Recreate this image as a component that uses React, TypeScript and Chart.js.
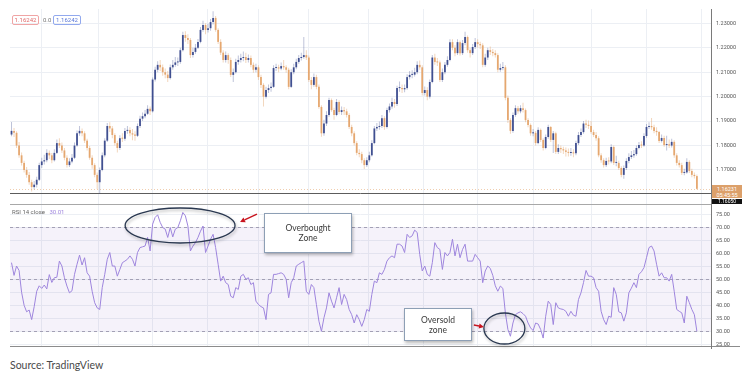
import React, { useEffect, useRef } from 'react';
import { Chart, registerables } from 'chart.js';

Chart.register(...registerables);

// ---------------- data (EUR/USD daily) ----------------
const firstOpen = 1.1845;

const closes = [
  1.1860, 1.1852, 1.1800, 1.1760, 1.1729, 1.1700, 1.1680, 1.1650, 1.1630, 1.1640,
  1.1660, 1.1720, 1.1735, 1.1740, 1.1770, 1.1760, 1.1740, 1.1770, 1.1810, 1.1800,
  1.1780, 1.1750, 1.1720, 1.1735, 1.1750, 1.1800, 1.1850, 1.1860, 1.1850, 1.1820,
  1.1790, 1.1750, 1.1720, 1.1680, 1.1650, 1.1700, 1.1760, 1.1820, 1.1880, 1.1870,
  1.1843, 1.1810, 1.1790, 1.1830, 1.1828, 1.1860, 1.1864, 1.1850, 1.1845, 1.1840,
  1.1880, 1.1910, 1.1920, 1.1930, 1.1950, 1.1940, 1.2070, 1.2110, 1.2130, 1.2120,
  1.2100, 1.2090, 1.2076, 1.2120, 1.2130, 1.2140, 1.2142, 1.2190, 1.2252, 1.2240,
  1.2232, 1.2170, 1.2183, 1.2200, 1.2224, 1.2273, 1.2293, 1.2273, 1.2280, 1.2305,
  1.2322, 1.2273, 1.2224, 1.2180, 1.2150, 1.2170, 1.2150, 1.2089, 1.2100, 1.2142,
  1.2150, 1.2158, 1.2162, 1.2150, 1.2158, 1.2130, 1.2110, 1.2120, 1.2080, 1.2048,
  1.2000, 1.2027, 1.2035, 1.2040, 1.2117, 1.2120, 1.2115, 1.2125, 1.2120, 1.2110,
  1.2040, 1.2100, 1.2120, 1.2142, 1.2158, 1.2162, 1.2170, 1.2160, 1.2068, 1.2048,
  1.2080, 1.2040, 1.1958, 1.1850, 1.1890, 1.1925, 1.1986, 1.1945, 1.1925, 1.1978,
  1.1937, 1.1945, 1.1940, 1.1925, 1.1876, 1.1850, 1.1810, 1.1770, 1.1765, 1.1740,
  1.1720, 1.1740, 1.1760, 1.1810, 1.1870, 1.1876, 1.1880, 1.1912, 1.1876, 1.1945,
  1.1960, 1.1978, 1.1970, 1.2035, 1.2035, 1.2030, 1.2035, 1.2080, 1.2089, 1.2090,
  1.2100, 1.2130, 1.2120, 1.2015, 1.2027, 1.2000, 1.2060, 1.2160, 1.2142, 1.2140,
  1.2068, 1.2100, 1.2130, 1.2150, 1.2223, 1.2200, 1.2178, 1.2223, 1.2178, 1.2219,
  1.2244, 1.2190, 1.2178, 1.2203, 1.2223, 1.2215, 1.2210, 1.2130, 1.2160, 1.2190,
  1.2183, 1.2178, 1.2170, 1.2110, 1.2117, 1.2120, 1.1995, 1.1904, 1.1860, 1.1925,
  1.1953, 1.1940, 1.1953, 1.1945, 1.1904, 1.1884, 1.1850, 1.1852, 1.1810, 1.1864,
  1.1823, 1.1790, 1.1835, 1.1876, 1.1823, 1.1850, 1.1774, 1.1790, 1.1785, 1.1780,
  1.1774, 1.1770, 1.1772, 1.1768, 1.1810, 1.1843, 1.1855, 1.1890, 1.1885, 1.1880,
  1.1855, 1.1843, 1.1830, 1.1760, 1.1740, 1.1720, 1.1737, 1.1735, 1.1794, 1.1729,
  1.1729, 1.1708, 1.1680, 1.1708, 1.1737, 1.1753, 1.1760, 1.1765, 1.1790, 1.1802,
  1.1800, 1.1839, 1.1876, 1.1880, 1.1875, 1.1860, 1.1855, 1.1819, 1.1831, 1.1802,
  1.1805, 1.1800, 1.1815, 1.1760, 1.1729, 1.1720, 1.1688, 1.1690, 1.1733, 1.1696,
  1.1680, 1.1675, 1.1623,
];

const highs = [
  1.1896, 1.1872, 1.1858, 1.1815, 1.1772, 1.1738, 1.1712, 1.1692, 1.1660, 1.1655,
  1.1672, 1.1730, 1.1750, 1.1762, 1.1785, 1.1780, 1.1770, 1.1785, 1.1825, 1.1830,
  1.1812, 1.1790, 1.1760, 1.1748, 1.1765, 1.1812, 1.1862, 1.1880, 1.1870, 1.1858,
  1.1828, 1.1798, 1.1760, 1.1728, 1.1690, 1.1710, 1.1772, 1.1830, 1.1892, 1.1895,
  1.1880, 1.1850, 1.1820, 1.1842, 1.1850, 1.1872, 1.1880, 1.1875, 1.1868, 1.1858,
  1.1890, 1.1922, 1.1935, 1.1945, 1.1965, 1.1960, 1.2078, 1.2122, 1.2145, 1.2150,
  1.2132, 1.2115, 1.2105, 1.2132, 1.2150, 1.2162, 1.2160, 1.2200, 1.2265, 1.2268,
  1.2255, 1.2240, 1.2200, 1.2215, 1.2236, 1.2285, 1.2310, 1.2300, 1.2298, 1.2318,
  1.2349, 1.2330, 1.2280, 1.2235, 1.2190, 1.2185, 1.2178, 1.2160, 1.2115, 1.2155,
  1.2168, 1.2175, 1.2185, 1.2180, 1.2172, 1.2168, 1.2140, 1.2135, 1.2128, 1.2090,
  1.2055, 1.2040, 1.2050, 1.2058, 1.2128, 1.2135, 1.2130, 1.2140, 1.2150, 1.2128,
  1.2118, 1.2112, 1.2135, 1.2155, 1.2170, 1.2180, 1.2244, 1.2190, 1.2168, 1.2080,
  1.2095, 1.2090, 1.2050, 1.1965, 1.1905, 1.1940, 1.1995, 1.1992, 1.1955, 1.1990,
  1.1985, 1.1960, 1.1958, 1.1950, 1.1932, 1.1885, 1.1858, 1.1818, 1.1785, 1.1775,
  1.1748, 1.1752, 1.1775, 1.1822, 1.1880, 1.1892, 1.1898, 1.1925, 1.1920, 1.1955,
  1.1972, 1.1995, 1.1990, 1.2045, 1.2062, 1.2050, 1.2050, 1.2092, 1.2105, 1.2108,
  1.2118, 1.2145, 1.2148, 1.2128, 1.2042, 1.2038, 1.2070, 1.2170, 1.2175, 1.2158,
  1.2148, 1.2115, 1.2142, 1.2165, 1.2235, 1.2235, 1.2210, 1.2235, 1.2230, 1.2232,
  1.2265, 1.2250, 1.2200, 1.2215, 1.2240, 1.2235, 1.2225, 1.2218, 1.2175, 1.2200,
  1.2205, 1.2195, 1.2190, 1.2178, 1.2135, 1.2142, 1.2128, 1.2005, 1.1912, 1.1935,
  1.1965, 1.1962, 1.1965, 1.1975, 1.1952, 1.1912, 1.1890, 1.1868, 1.1860, 1.1875,
  1.1870, 1.1830, 1.1845, 1.1885, 1.1880, 1.1860, 1.1856, 1.1805, 1.1800, 1.1795,
  1.1792, 1.1788, 1.1790, 1.1785, 1.1820, 1.1855, 1.1870, 1.1900, 1.1905, 1.1902,
  1.1900, 1.1865, 1.1855, 1.1838, 1.1768, 1.1748, 1.1750, 1.1752, 1.1805, 1.1800,
  1.1758, 1.1738, 1.1715, 1.1718, 1.1748, 1.1768, 1.1778, 1.1782, 1.1800, 1.1815,
  1.1818, 1.1850, 1.1888, 1.1895, 1.1913, 1.1885, 1.1875, 1.1860, 1.1845, 1.1840,
  1.1840, 1.1825, 1.1828, 1.1822, 1.1768, 1.1740, 1.1730, 1.1705, 1.1748, 1.1740,
  1.1705, 1.1690, 1.1682,
];

const lows = [
  1.1838, 1.1835, 1.1790, 1.1750, 1.1718, 1.1690, 1.1668, 1.1640, 1.1612, 1.1620,
  1.1628, 1.1655, 1.1708, 1.1722, 1.1732, 1.1745, 1.1728, 1.1735, 1.1765, 1.1790,
  1.1770, 1.1740, 1.1710, 1.1712, 1.1728, 1.1745, 1.1795, 1.1840, 1.1838, 1.1810,
  1.1780, 1.1742, 1.1705, 1.1670, 1.1622, 1.1603, 1.1695, 1.1752, 1.1815, 1.1855,
  1.1830, 1.1800, 1.1772, 1.1782, 1.1815, 1.1820, 1.1848, 1.1838, 1.1822, 1.1820,
  1.1835, 1.1872, 1.1900, 1.1912, 1.1925, 1.1925, 1.1935, 1.2062, 1.2100, 1.2105,
  1.2085, 1.2075, 1.2060, 1.2070, 1.2110, 1.2122, 1.2125, 1.2135, 1.2185, 1.2225,
  1.2215, 1.2158, 1.2160, 1.2175, 1.2195, 1.2218, 1.2265, 1.2255, 1.2262, 1.2270,
  1.2295, 1.2265, 1.2215, 1.2170, 1.2140, 1.2140, 1.2135, 1.2080, 1.2060, 1.2095,
  1.2130, 1.2140, 1.2145, 1.2138, 1.2140, 1.2120, 1.2098, 1.2100, 1.2068, 1.2035,
  1.1960, 1.1992, 1.2015, 1.2020, 1.2035, 1.2105, 1.2100, 1.2108, 1.2110, 1.2098,
  1.2030, 1.2035, 1.2092, 1.2112, 1.2135, 1.2148, 1.2155, 1.2150, 1.2060, 1.2030,
  1.2040, 1.2030, 1.1950, 1.1836, 1.1840, 1.1880, 1.1918, 1.1938, 1.1905, 1.1920,
  1.1928, 1.1925, 1.1925, 1.1915, 1.1868, 1.1838, 1.1800, 1.1760, 1.1752, 1.1728,
  1.1704, 1.1712, 1.1732, 1.1755, 1.1805, 1.1860, 1.1865, 1.1872, 1.1865, 1.1870,
  1.1935, 1.1950, 1.1955, 1.1962, 1.2020, 1.2015, 1.2018, 1.2028, 1.2070, 1.2075,
  1.2082, 1.2092, 1.2110, 1.2005, 1.2005, 1.1985, 1.1992, 1.2055, 1.2130, 1.2125,
  1.2060, 1.2060, 1.2092, 1.2122, 1.2145, 1.2190, 1.2165, 1.2170, 1.2168, 1.2170,
  1.2210, 1.2180, 1.2160, 1.2170, 1.2195, 1.2200, 1.2195, 1.2120, 1.2122, 1.2150,
  1.2170, 1.2165, 1.2160, 1.2100, 1.2102, 1.2108, 1.1985, 1.1892, 1.1848, 1.1852,
  1.1918, 1.1930, 1.1932, 1.1935, 1.1895, 1.1875, 1.1840, 1.1838, 1.1800, 1.1805,
  1.1815, 1.1780, 1.1785, 1.1828, 1.1815, 1.1770, 1.1765, 1.1765, 1.1770, 1.1765,
  1.1755, 1.1755, 1.1758, 1.1752, 1.1760, 1.1802, 1.1835, 1.1848, 1.1872, 1.1868,
  1.1848, 1.1835, 1.1820, 1.1752, 1.1730, 1.1710, 1.1712, 1.1722, 1.1728, 1.1720,
  1.1715, 1.1700, 1.1670, 1.1664, 1.1700, 1.1728, 1.1745, 1.1750, 1.1758, 1.1785,
  1.1790, 1.1795, 1.1832, 1.1868, 1.1865, 1.1850, 1.1840, 1.1810, 1.1812, 1.1795,
  1.1780, 1.1790, 1.1792, 1.1750, 1.1718, 1.1710, 1.1680, 1.1678, 1.1685, 1.1688,
  1.1670, 1.1665, 1.1620,
];

const rsiValues = [
  56.4, 51.5, 55.1, 53.4, 45.0, 40.0, 37.5, 38.2, 34.5, 39.5,
  45.4, 47.5, 46.5, 47.8, 46.3, 51.8, 48.8, 50.6, 50.8, 57.0,
  55.1, 50.6, 47.4, 44.8, 45.6, 51.9, 55.8, 59.3, 55.5, 58.3,
  52.5, 51.2, 45.4, 41.0, 39.0, 38.4, 46.8, 51.9, 57.7, 60.3,
  55.1, 55.1, 51.2, 53.8, 56.4, 57.0, 57.7, 59.0, 57.7, 55.1,
  60.3, 62.2, 62.5, 62.8, 66.1, 60.9, 71.2, 73.8, 74.8, 71.9,
  69.9, 69.3, 66.1, 69.9, 66.3, 69.3, 69.9, 72.5, 75.7, 74.4,
  70.5, 60.9, 62.8, 64.1, 66.1, 68.5, 70.5, 60.3, 62.8, 65.4,
  67.3, 62.2, 55.8, 49.3, 51.2, 48.7, 48.0, 43.5, 42.9, 46.8,
  46.1, 51.2, 51.9, 50.0, 50.6, 48.0, 48.7, 41.6, 40.3, 39.5,
  39.0, 34.5, 44.2, 44.8, 51.9, 51.9, 52.2, 52.5, 51.9, 50.0,
  42.9, 48.7, 50.6, 55.1, 55.8, 56.4, 57.0, 45.4, 44.2, 48.0,
  46.8, 40.3, 33.9, 30.0, 35.2, 39.0, 44.8, 41.6, 39.0, 42.9,
  46.8, 40.3, 44.2, 42.2, 38.4, 36.4, 33.2, 36.4, 34.5, 31.9,
  34.5, 38.4, 37.7, 44.2, 49.3, 48.7, 52.5, 51.9, 53.8, 57.0,
  58.3, 59.0, 58.3, 63.5, 63.5, 62.8, 60.3, 67.3, 66.1, 66.7,
  68.9, 68.0, 59.6, 53.2, 55.1, 51.9, 51.2, 56.4, 64.1, 62.2,
  61.5, 53.8, 60.3, 59.0, 60.3, 65.4, 59.0, 63.5, 58.3, 61.5,
  63.5, 57.0, 57.0, 57.0, 59.6, 58.3, 57.0, 48.7, 53.2, 55.1,
  54.2, 51.5, 47.5, 45.4, 47.4, 46.5, 37.0, 30.7, 28.1, 33.2,
  36.4, 37.1, 37.5, 36.8, 35.8, 33.2, 31.3, 30.3, 33.2, 32.8,
  30.7, 27.4, 35.8, 41.6, 40.3, 32.6, 41.0, 39.0, 38.6, 38.4,
  37.7, 35.8, 37.7, 36.2, 35.8, 42.2, 44.8, 48.7, 53.4, 51.2,
  51.2, 50.6, 46.8, 45.4, 37.7, 34.5, 32.6, 35.8, 35.4, 46.8,
  44.2, 37.5, 37.1, 33.9, 37.1, 44.8, 46.6, 48.7, 46.8, 51.9,
  52.9, 54.5, 58.3, 62.2, 62.8, 60.9, 55.8, 51.2, 52.5, 50.6,
  50.6, 49.3, 51.9, 45.4, 38.4, 37.7, 37.1, 33.2, 43.5, 41.0,
  38.4, 36.4, 30.01,
];

// month boundaries (candle index) for the vertical grid
const monthStarts = [12, 34.7, 55.8, 77.6, 98.2, 117.9, 141.5, 163.7, 185.1, 207, 230, 252.2, 274];
const priceTicks = [1.17, 1.18, 1.19, 1.2, 1.21, 1.22, 1.23];
const rsiTicks = [25, 30, 35, 40, 45, 50, 55, 60, 65, 70, 75];
const rsiLevels = [70, 50, 30];
const rsiBand = [30, 70];
const lastPrice = 1.16231;
const supportPrice = 1.1605;
const lastRsiLabel = '30.01';
const legendValue = '1.16242';
const countdown = '05:45:55';

// annotations, in data units: [index, rsi, radiusIndex, radiusRsi]
const ellipses = [
  [66.9, 70.69, 21.8, 6.73],
  [195.6, 31.08, 8.13, 5.96],
];
// arrows: [fromIndex, fromRsi, toIndex, toRsi]
const arrows = [
  [97.4, 75.1, 90.7, 72.04],
  [183.5, 32.42, 187.5, 31.65],
];

// ---------------- styling ----------------
const X_MIN = -0.6;
const X_MAX = 277.6;
const P_MIN = 1.15609;
const P_MAX = 1.23585;
const R_MIN = 24.35;
const R_MAX = 78.96;
const UP = 'rgba(52,68,138,0.92)';
const DOWN = 'rgba(228,163,104,0.92)';
const UP_WICK = 'rgba(58,74,140,0.33)';
const DOWN_WICK = 'rgba(227,165,109,0.45)';
const GRID = '#eceff4';
const RSI_COLOR = '#9e85dd';
const AXIS_FONT = { size: 5.5, family: 'Roboto, Arial, sans-serif' };

const xScale = () => ({
  type: 'linear',
  min: X_MIN,
  max: X_MAX,
  offset: false,
  grid: { color: GRID, drawTicks: false, offset: false },
  border: { display: false },
  ticks: { display: false },
  afterBuildTicks: (s: any) => {
    s.ticks = monthStarts.map((v) => ({ value: v }));
  },
  afterFit: (s: any) => {
    s.height = 0;
  },
});

const priceLinesPlugin = {
  id: 'priceLines',
  beforeDatasetsDraw(chart: any) {
    const { ctx, chartArea: a, scales } = chart;
    const y = scales.y;
    ctx.save();
    ctx.lineWidth = 1;
    const yl = Math.round(y.getPixelForValue(lastPrice)) + 0.5;
    ctx.strokeStyle = 'rgba(227,165,109,0.55)';
    ctx.setLineDash([1, 2]);
    ctx.beginPath();
    ctx.moveTo(a.left, yl);
    ctx.lineTo(a.right, yl);
    ctx.stroke();
    ctx.setLineDash([]);
    const ys = Math.round(y.getPixelForValue(supportPrice)) + 0.5;
    ctx.strokeStyle = '#5c5c5c';
    ctx.beginPath();
    ctx.moveTo(a.left, ys);
    ctx.lineTo(a.right, ys);
    ctx.stroke();
    ctx.restore();
  },
};

const rsiBandPlugin = {
  id: 'rsiBand',
  beforeDatasetsDraw(chart: any) {
    const { ctx, chartArea: a, scales } = chart;
    const y = scales.y;
    ctx.save();
    const yTop = y.getPixelForValue(rsiBand[1]);
    const yBot = y.getPixelForValue(rsiBand[0]);
    ctx.fillStyle = 'rgba(126,87,194,0.08)';
    ctx.fillRect(a.left, yTop, a.right - a.left, yBot - yTop);
    ctx.strokeStyle = '#a3a0b5';
    ctx.lineWidth = 1;
    ctx.setLineDash([3, 3]);
    rsiLevels.forEach((lv) => {
      const yy = Math.round(y.getPixelForValue(lv)) + 0.5;
      ctx.beginPath();
      ctx.moveTo(a.left, yy);
      ctx.lineTo(a.right, yy);
      ctx.stroke();
    });
    ctx.setLineDash([]);
    ctx.strokeStyle = '#a8a8a8';
    ctx.beginPath();
    ctx.moveTo(a.left, a.top + 0.5);
    ctx.lineTo(a.right, a.top + 0.5);
    ctx.stroke();
    ctx.strokeStyle = '#8c8c8c';
    ctx.beginPath();
    ctx.moveTo(a.left, a.bottom + 0.5);
    ctx.lineTo(a.right + 29, a.bottom + 0.5);
    ctx.stroke();
    ctx.strokeStyle = '#7a7a7a';
    ctx.beginPath();
    ctx.moveTo(a.right + 0.5, a.top);
    ctx.lineTo(a.right + 0.5, a.bottom + 3);
    ctx.stroke();
    ctx.restore();
  },
};

const annotationPlugin = {
  id: 'annotations',
  afterDraw(chart: any) {
    const { ctx, scales } = chart;
    const x = scales.x;
    const y = scales.y;
    ctx.save();
    ctx.shadowColor = 'rgba(0,0,0,0.28)';
    ctx.shadowBlur = 3;
    ctx.shadowOffsetX = 1;
    ctx.shadowOffsetY = 2;
    ctx.strokeStyle = '#2a3850';
    ctx.lineWidth = 1.3;
    ellipses.forEach(([cx, cy, rx, ry]) => {
      const px = x.getPixelForValue(cx);
      const py = y.getPixelForValue(cy);
      const rpx = Math.abs(x.getPixelForValue(cx + rx) - px);
      const rpy = Math.abs(y.getPixelForValue(cy + ry) - py);
      ctx.beginPath();
      ctx.ellipse(px, py, rpx, rpy, 0, 0, Math.PI * 2);
      ctx.stroke();
    });
    ctx.shadowColor = 'rgba(0,0,0,0)';
    ctx.strokeStyle = '#c8141e';
    ctx.fillStyle = '#c8141e';
    ctx.lineWidth = 1.4;
    arrows.forEach(([fx, fy, tx, ty]) => {
      const x1 = x.getPixelForValue(fx);
      const y1 = y.getPixelForValue(fy);
      const x2 = x.getPixelForValue(tx);
      const y2 = y.getPixelForValue(ty);
      const ang = Math.atan2(y2 - y1, x2 - x1);
      const hl = 5;
      const hw = 2.6;
      const bx = x2 - hl * Math.cos(ang);
      const by = y2 - hl * Math.sin(ang);
      ctx.beginPath();
      ctx.moveTo(x1, y1);
      ctx.lineTo(bx, by);
      ctx.stroke();
      ctx.beginPath();
      ctx.moveTo(x2, y2);
      ctx.lineTo(bx + hw * Math.sin(ang), by - hw * Math.cos(ang));
      ctx.lineTo(bx - hw * Math.sin(ang), by + hw * Math.cos(ang));
      ctx.closePath();
      ctx.fill();
    });
    ctx.restore();
  },
};

export default function App() {
  const topRef = useRef<HTMLCanvasElement | null>(null);
  const botRef = useRef<HTMLCanvasElement | null>(null);

  useEffect(() => {
    document.body.style.margin = '0';
    const opens = closes.map((c, i) => (i === 0 ? firstOpen : closes[i - 1]));
    const up = closes.map((c, i) => c >= opens[i]);
    const bodies = closes.map((c, i) => ({ x: i, y: [opens[i], c] }));
    const wicks = closes.map((c, i) => ({ x: i, y: [lows[i], highs[i]] }));

    const top = new Chart(topRef.current as HTMLCanvasElement, {
      type: 'bar',
      data: {
        datasets: [
          {
            data: bodies as any,
            backgroundColor: up.map((u) => (u ? UP : DOWN)),
            barThickness: 1.8,
            minBarLength: 1,
            inflateAmount: 0,
            grouped: false,
            order: 0,
            borderWidth: 0,
          } as any,
          {
            data: wicks as any,
            backgroundColor: up.map((u) => (u ? UP_WICK : DOWN_WICK)),
            barThickness: 1,
            inflateAmount: 0,
            grouped: false,
            order: 1,
            borderWidth: 0,
          } as any,
        ],
      },
      options: {
        animation: false,
        responsive: false,
        maintainAspectRatio: false,
        devicePixelRatio: 1,
        events: [],
        layout: { padding: { left: 10, right: 0, top: 0, bottom: 0 } },
        plugins: { legend: { display: false }, tooltip: { enabled: false } },
        scales: {
          x: xScale() as any,
          y: {
            position: 'right',
            min: P_MIN,
            max: P_MAX,
            grid: { color: GRID, drawTicks: false },
            border: { display: true, color: '#7a7a7a' },
            ticks: {
              padding: 5,
              color: '#555',
              font: AXIS_FONT,
              callback: (v: any) => Number(v).toFixed(5),
            },
            afterBuildTicks: (s: any) => {
              s.ticks = priceTicks.map((v) => ({ value: v }));
            },
            afterFit: (s: any) => {
              s.width = 39;
              s.paddingTop = 0;
              s.paddingBottom = 0;
            },
          } as any,
        },
      },
      plugins: [priceLinesPlugin],
    });

    const bot = new Chart(botRef.current as HTMLCanvasElement, {
      type: 'line',
      data: {
        datasets: [
          {
            data: rsiValues.map((v, i) => ({ x: i, y: v })),
            borderColor: RSI_COLOR,
            borderWidth: 1,
            pointRadius: 0,
            tension: 0,
            fill: false,
          },
        ],
      },
      options: {
        animation: false,
        responsive: false,
        maintainAspectRatio: false,
        devicePixelRatio: 1,
        events: [],
        layout: { padding: { left: 10, right: 0, top: 0, bottom: 4 } },
        plugins: { legend: { display: false }, tooltip: { enabled: false } },
        scales: {
          x: xScale() as any,
          y: {
            position: 'right',
            min: R_MIN,
            max: R_MAX,
            grid: { color: GRID, drawTicks: false },
            border: { display: false },
            ticks: {
              padding: 5,
              color: '#555',
              font: AXIS_FONT,
              callback: (v: any) => Number(v).toFixed(2),
            },
            afterBuildTicks: (s: any) => {
              s.ticks = rsiTicks.map((v) => ({ value: v }));
            },
            afterFit: (s: any) => {
              s.width = 39;
              s.paddingTop = 0;
              s.paddingBottom = 0;
            },
          } as any,
        },
      },
      plugins: [rsiBandPlugin, annotationPlugin],
    });

    return () => {
      top.destroy();
      bot.destroy();
    };
  }, []);

  const small: React.CSSProperties = {
    position: 'absolute',
    fontFamily: 'Roboto, Arial, sans-serif',
    fontSize: '6px',
    lineHeight: '8px',
    whiteSpace: 'nowrap',
  };
  const box: React.CSSProperties = {
    position: 'absolute',
    background: '#fff',
    border: '1px solid #8d9fb5',
    boxShadow: '1px 2px 3px rgba(0,0,0,0.28)',
    display: 'flex',
    flexDirection: 'column',
    alignItems: 'center',
    justifyContent: 'center',
    fontFamily: 'Lato, "Open Sans", sans-serif',
    fontSize: '8.5px',
    lineHeight: '10px',
    color: '#3a3a3a',
    boxSizing: 'border-box',
  };

  return (
    <div style={{ position: 'relative', width: 750, height: 381, overflow: 'hidden', background: '#fff' }}>
      <canvas ref={topRef} width={750} height={195} style={{ position: 'absolute', left: 0, top: 9 }} />
      <canvas ref={botRef} width={750} height={146} style={{ position: 'absolute', left: 0, top: 204 }} />

      {/* legend top-left */}
      <div style={{ ...small, left: 12, top: 15, width: 27, height: 10, border: '1px solid #f0a5a5', borderRadius: 2, color: '#e06a6a', boxSizing: 'border-box', textAlign: 'center' }}>{legendValue}</div>
      <div style={{ ...small, left: 43, top: 16, color: '#777' }}>0.0</div>
      <div style={{ ...small, left: 53, top: 15, width: 28, height: 10, border: '1px solid #92a9ee', borderRadius: 2, color: '#5a78d8', boxSizing: 'border-box', textAlign: 'center' }}>{legendValue}</div>

      {/* RSI title */}
      <div style={{ ...small, left: 12, top: 208, color: '#666' }}>
        RSI 14 close <span style={{ color: RSI_COLOR, marginLeft: 3 }}>{lastRsiLabel}</span>
      </div>

      {/* right axis labels */}
      <div style={{ position: 'absolute', left: 712, top: 185, width: 30, height: 13, background: '#dca06a', color: '#fff', fontFamily: 'Roboto, Arial, sans-serif', fontSize: '5.5px', lineHeight: '6px', textAlign: 'center', paddingTop: '0.5px', boxSizing: 'border-box' }}>
        <div>{lastPrice.toFixed(5)}</div>
        <div>{countdown}</div>
      </div>
      <div style={{ position: 'absolute', left: 712, top: 199, width: 30, height: 5, background: '#111', color: '#fff', fontFamily: 'Roboto, Arial, sans-serif', fontSize: '5px', lineHeight: '5px', textAlign: 'center', overflow: 'hidden' }}>
        {supportPrice.toFixed(5)}
      </div>

      {/* annotation boxes */}
      <div style={{ ...box, left: 264, top: 213, width: 88, height: 40 }}>
        <div>Overbought</div>
        <div>Zone</div>
      </div>
      <div style={{ ...box, left: 404, top: 308, width: 68, height: 33 }}>
        <div>Oversold</div>
        <div>zone</div>
      </div>

      {/* source */}
      <div style={{ position: 'absolute', left: 10, top: 359, fontFamily: 'Lato, "Open Sans", sans-serif', fontSize: '10.5px', lineHeight: '12px', color: '#4a4a4a' }}>
        Source: TradingView
      </div>
    </div>
  );
}
